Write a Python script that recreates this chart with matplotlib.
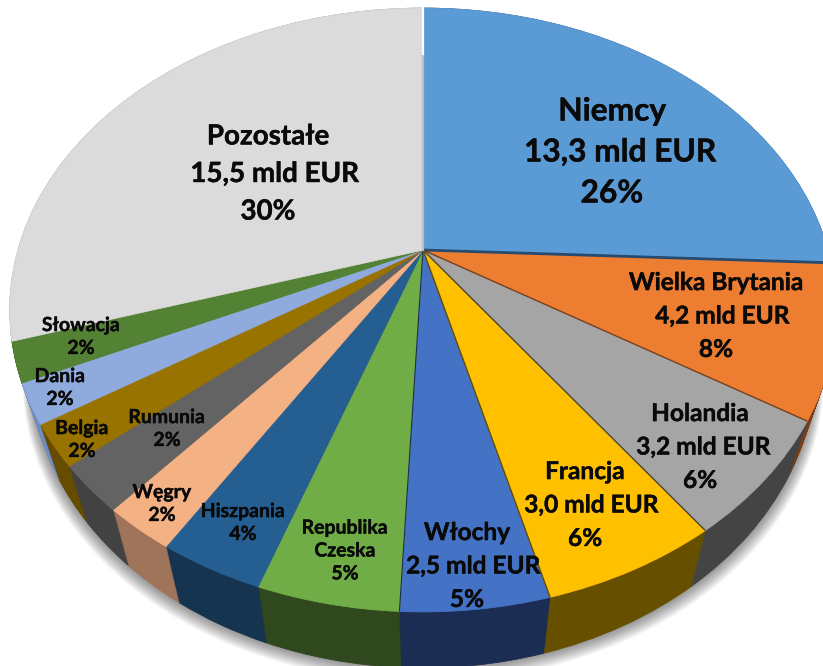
import numpy as np
import matplotlib
matplotlib.use("Agg")
import matplotlib.pyplot as plt
import matplotlib.patheffects as pe
from matplotlib.transforms import Transform

# ---------- data ----------
categories = ["Niemcy", "Wielka Brytania", "Holandia", "Francja", "Włochy",
              "Republika\nCzeska", "Hiszpania", "Węgry", "Rumunia", "Belgia",
              "Dania", "Słowacja", "Pozostałe"]
values = [13.33, 4.23, 3.22, 3.04, 2.5, 2.4, 1.8, 1.25, 1.3, 1.15, 1.1, 1.1, 15.45]
amounts = ["  13,3 mld EUR", "  4,2 mld EUR", " 3,2 mld EUR", "  3,0 mld EUR", "  2,5 mld EUR",
           "", "", "", "", "", "", "", "  15,5 mld EUR"]
shares = ["26%", "8%", "6%", "6%", "5%", "5%", "4%", "2%", "2%", "2%", "2%", "2%", "30%"]

colors = ["#5B9BD5", "#ED7D31", "#A5A5A5", "#FFC000", "#4472C4", "#70AD47", "#255E91",
          "#F4B183", "#636363", "#997300", "#8FAADC", "#548235", "#DBDBDB"]
side_colors = ["#264B6E", "#7A3F18", "#444444", "#665000", "#1B2D52", "#2F481D", "#16344F",
               "#A0745A", "#424242", "#664C00", "#6F8CC0", "#38571F", "#8A8A8A"]

label_x = [612, 716, 700, 585, 467, 345, 243, 162, 167, 82, 60, 81, 268]
label_y = [152, 316, 447, 505, 566, 551, 523, 504, 429, 440, 388, 337, 174]
label_size = [22.8, 17.6, 17.6, 17.6, 17.6, 14, 14, 14, 14, 14, 14, 14, 20]
label_spacing = [1.5, 1.55, 1.55, 1.55, 1.55, 1.42, 1.42, 1.42, 1.42, 1.42, 1.42, 1.42, 1.55]

# ---------- perspective projection of the unit disc into pixels ----------
CX, CY, A, B, K = 423.0, 250.0, 405.0, 290.0, 0.1987
DEPTH, SHRINK = 56.0, 0.05


class Persp(Transform):
    input_dims = 2
    output_dims = 2
    is_separable = False
    has_inverse = False

    def __init__(self, t=0.0, grow=0.0, extra=0.0):
        super().__init__()
        self.t, self.grow, self.extra = t, grow, extra

    def transform_non_affine(self, values):
        v = np.asarray(values, float)
        w = 1 + K * v[:, 1]
        x = A * v[:, 0] / w
        y = -B * v[:, 1] / w
        s = 1 - SHRINK * self.t + self.grow
        return np.column_stack([CX + s * x, CY + y + DEPTH * self.t + self.extra])


plt.rcParams["font.family"] = ["Lato", "DejaVu Sans"]
fig = plt.figure(figsize=(8.23, 6.66), dpi=100, facecolor="white")
ax = fig.add_axes([0, 0, 1, 1])


def draw_pie(vals, cols, persp, z, alpha=None, edge=False):
    wedges, _ = ax.pie(vals, colors=cols, startangle=90, counterclock=False)
    for w in wedges:
        w.set_transform(persp + ax.transData)
        w.set_zorder(z)
        if alpha is not None:
            w.set_alpha(alpha)
        if edge:
            w.set_edgecolor(w.get_facecolor())
            w.set_linewidth(0.6)
        else:
            w.set_linewidth(0)
    return wedges


# soft shadow below the body
for i, e in enumerate(np.linspace(16, 1, 15)):
    draw_pie([1], ["black"], Persp(1.0, grow=e * 0.0012, extra=e * 0.9), 1 + i * 0.01, alpha=0.03)

# side wall: stacked copies of the pie, lowest first
for i, t in enumerate(np.linspace(1, 0, 58)):
    draw_pie(values, side_colors, Persp(t), 2 + i * 0.001, edge=True)

# top surface
top = Persp(0.0)
draw_pie(values, colors, top, 3, edge=True)

# visible cut faces between slices (right half)
theta = np.cumsum(values) / np.sum(values) * 2 * np.pi
for i, lw in zip(range(5), [2.0, 1.0, 1.0, 1.0, 0.8]):
    ax.plot([0, np.sin(theta[i])], [0, np.cos(theta[i])], color=side_colors[i], lw=lw,
            transform=top + ax.transData, zorder=4, solid_capstyle="butt")
ax.plot([0, 0], [0, 0.78], color="#BDBDBD", lw=1.6, transform=top + ax.transData, zorder=4)
ax.plot([0, 0], [0.78, 1.02], color="white", lw=1.6, transform=top + ax.transData, zorder=4)

# labels
for i, name in enumerate(categories):
    lines = [name] + ([amounts[i]] if amounts[i] else []) + [shares[i]]
    ax.text(label_x[i], label_y[i], "\n".join(lines), ha="center", va="center",
            fontsize=label_size[i], fontweight="bold", color="#0A0A0A",
            linespacing=label_spacing[i], zorder=5,
            path_effects=[pe.withStroke(linewidth=0.3, foreground="#0A0A0A")])

ax.set_aspect("auto")
ax.set_xlim(0, 823)
ax.set_ylim(666, 0)
ax.set_xticks([])
ax.set_yticks([])
ax.set_frame_on(False)
fig.savefig("out.png", dpi=100, facecolor="white")
